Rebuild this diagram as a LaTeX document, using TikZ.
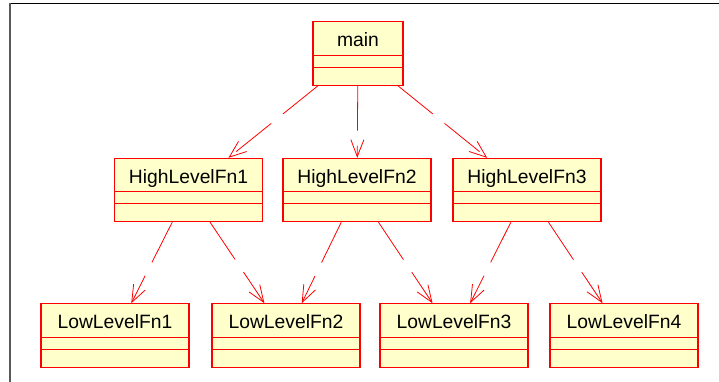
\documentclass[tikz,border=0pt]{standalone}
\usepackage{fontspec}
\setmainfont{Liberation Sans}
\usetikzlibrary{arrows.meta}
\definecolor{classfill}{RGB}{255,255,204}

\begin{document}
\begin{tikzpicture}[x=1pt,y=-1pt,
	cls/.style={draw=red,line width=1.1pt,fill=classfill,inner sep=0pt,minimum width=148pt,
		text height=25pt,text depth=38.3pt,font=\fontsize{19.3}{23}\selectfont,
		path picture={\draw[red,line width=0.8pt]
			([yshift=-33.5pt]path picture bounding box.north west) -- ([yshift=-33.5pt]path picture bounding box.north east)
			([yshift=-45.5pt]path picture bounding box.north west) -- ([yshift=-45.5pt]path picture bounding box.north east);}},
	dep/.style={red,line width=0.8pt,dash pattern=on 45pt off 15pt,-{Straight Barb[length=17pt,width=13pt]}}]
			\useasboundingbox (0,0) rectangle (719,382);
			%frame
			\draw[black,line width=1.5pt] (10,3.5) -- (719,3.5);
			\draw[black!65,line width=2pt] (10,3.5) -- (10,382);
			% classes
			\node[cls,minimum width=90pt,text height=24.5pt,text depth=38.8pt] (main) at (358,53.5) {main};
			\node[cls] (hlf1) at (188.5,190) {HighLevelFn1};
			\node[cls] (hlf2) at (357,190) {HighLevelFn2};
			\node[cls] (hlf3) at (527,190) {HighLevelFn3};
			\node[cls] (llf1) at (115,335.5) {LowLevelFn1};
			\node[cls] (llf2) at (286,335.5) {LowLevelFn2};
			\node[cls] (llf3) at (454,335.5) {LowLevelFn3};
			\node[cls] (llf4) at (624,335.5) {LowLevelFn4};
			%dependencies
			\draw[dep] (main) -- (hlf1);
			\draw[dep] (main) -- (hlf2);
			\draw[dep] (main) -- (hlf3);
			\draw[dep] (hlf1) -- (llf1);
			\draw[dep] (hlf1) -- (llf2);
			\draw[dep] (hlf2) -- (llf2);
			\draw[dep] (hlf2) -- (llf3);
			\draw[dep] (hlf3) -- (llf3);
			\draw[dep] (hlf3) -- (llf4);
		\end{tikzpicture}
\end{document}
